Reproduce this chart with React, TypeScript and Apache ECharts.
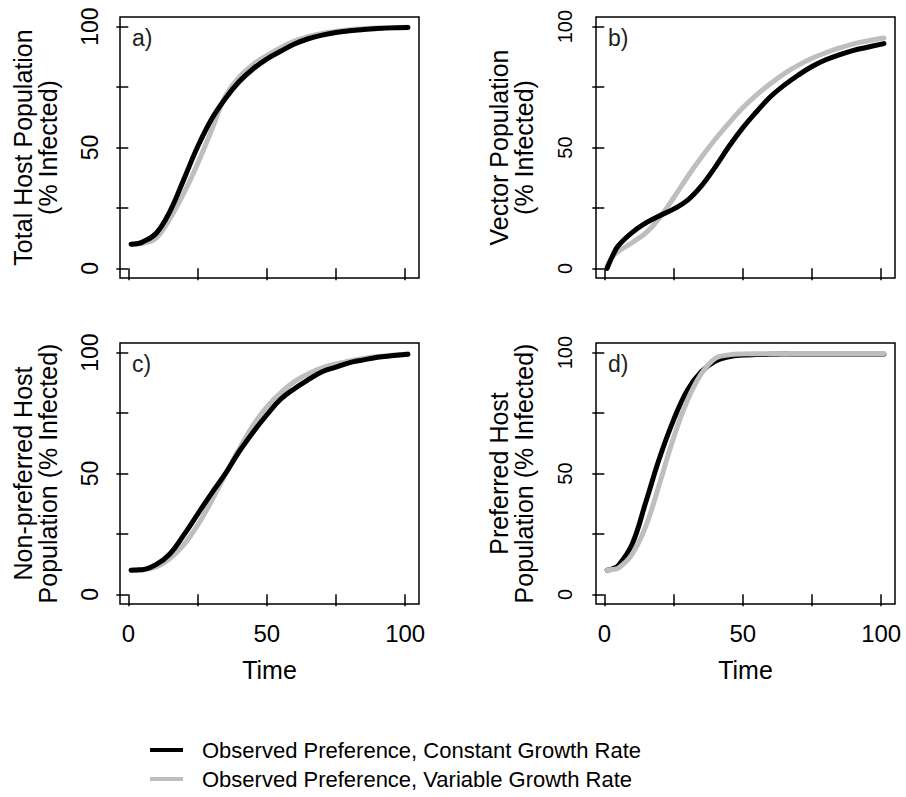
import React, { useEffect, useRef } from "react";
import * as echarts from "echarts";

// ---- data ----
const time = [1, 3, 5, 10, 15, 20, 25, 30, 35, 40, 45, 50, 55, 60, 65, 70, 75, 80, 85, 90, 95, 101];

const totalHostConstant = [10, 10.2, 10.8, 14.4, 23.5, 36.7, 50.2, 61.6, 70.2, 77.2, 82.5, 86.6, 89.8, 92.8, 95, 96.5, 97.6, 98.3, 98.8, 99.2, 99.5, 99.7];
const totalHostVariable = [10, 10.1, 10.3, 12.5, 20.5, 31, 43.2, 56.9, 71, 79, 84.3, 88, 91.3, 94, 95.9, 97.2, 98, 98.7, 99.1, 99.4, 99.6, 99.8];

const vectorConstant = [0, 5.2, 9.3, 14.8, 18.8, 21.8, 24.5, 28.1, 34, 41.8, 50.4, 58.1, 64.8, 71, 75.8, 79.9, 83.5, 86.3, 88.4, 90.2, 91.5, 93];
const vectorVariable = [1, 4.8, 7, 10.6, 14.7, 20.9, 29.1, 37.8, 45.9, 53.3, 60.1, 66.4, 71.8, 76.4, 80.6, 84, 86.9, 89.2, 91.2, 92.9, 94.1, 95.3];

const nonPreferredConstant = [10, 10.1, 10.2, 12.3, 16.7, 24.5, 33.1, 41.7, 49.8, 59, 67, 74.2, 80.7, 85.1, 88.8, 92.1, 94, 95.9, 97, 98.1, 98.7, 99.3];
const nonPreferredVariable = [10, 10, 10.1, 11.3, 14.8, 20.5, 28.5, 38.5, 49.5, 60, 69.8, 77.5, 83.4, 88, 91.3, 93.7, 95.3, 96.6, 97.6, 98.4, 98.9, 99.5];

const preferredConstant = [10, 10.6, 11.8, 20.6, 38.2, 56.6, 72.1, 84.5, 92.1, 96.4, 98.3, 99, 99.2, 99.3, 99.4, 99.4, 99.5, 99.5, 99.5, 99.5, 99.5, 99.5];
const preferredVariable = [10, 10.3, 10.8, 16.5, 28.2, 46, 64.7, 80.2, 91.2, 97.6, 99.1, 99.5, 99.6, 99.6, 99.6, 99.7, 99.7, 99.7, 99.7, 99.7, 99.7, 99.7];

const xTickValues = [0, 25, 50, 75, 100];
const xLabelValues = [0, 50, 100];
const yTickValues = [0, 25, 50, 75, 100];
const yLabelValues = [0, 50, 100];

const panelLabels = ["a)", "b)", "c)", "d)"];
const yTitles = [
  "Total Host Population\n(% Infected)",
  "Vector Population\n(% Infected)",
  "Non-preferred Host\nPopulation (% Infected)",
  "Preferred Host\nPopulation (% Infected)",
];
const xTitle = "Time";
const seriesNames = [
  "Observed Preference, Constant Growth Rate",
  "Observed Preference, Variable Growth Rate",
];

const panels = [
  { constant: totalHostConstant, variable: totalHostVariable, grayOnTop: false },
  { constant: vectorConstant, variable: vectorVariable, grayOnTop: false },
  { constant: nonPreferredConstant, variable: nonPreferredVariable, grayOnTop: false },
  { constant: preferredConstant, variable: preferredVariable, grayOnTop: true },
];

// ---- styling ----
const FONT = "'Liberation Sans', Arial, Helvetica, sans-serif";
const BLACK = "#000000";
const GRAY = "#BEBEBE";
const gridLefts = [120, 596];
const gridTops = [17, 343];
const GRID_W = 299;
const GRID_H = 261;

export default function App() {
  const ref = useRef<HTMLDivElement>(null);

  useEffect(() => {
    if (!ref.current) return;
    const chart = echarts.init(ref.current, undefined, { renderer: "svg" });

    const grids: any[] = [];
    const xAxes: any[] = [];
    const yAxes: any[] = [];
    const series: any[] = [];
    const graphics: any[] = [];

    panels.forEach((p, i) => {
      const col = i % 2;
      const row = Math.floor(i / 2);
      const left = gridLefts[col];
      const top = gridTops[row];
      const bottomRow = row === 1;

      grids.push({
        left,
        top,
        width: GRID_W,
        height: GRID_H,
        show: true,
        borderColor: BLACK,
        borderWidth: 1.5,
        backgroundColor: "transparent",
        containLabel: false,
      });

      xAxes.push({
        gridIndex: i,
        type: "value",
        min: -3,
        max: 105,
        axisLine: { show: false },
        splitLine: { show: false },
        axisTick: {
          show: true,
          inside: false,
          length: 12,
          customValues: xTickValues,
          lineStyle: { color: BLACK, width: 1.5 },
        },
        axisLabel: {
          show: bottomRow,
          customValues: xLabelValues,
          margin: 17,
          fontSize: 24,
          color: BLACK,
          fontFamily: FONT,
        },
        name: bottomRow ? xTitle : "",
        nameLocation: "middle",
        nameGap: 53,
        nameTextStyle: { fontSize: 25, color: BLACK, fontFamily: FONT },
      });

      yAxes.push({
        gridIndex: i,
        type: "value",
        min: -4,
        max: 104,
        axisLine: { show: false },
        splitLine: { show: false },
        axisTick: {
          show: true,
          inside: false,
          length: 12,
          customValues: yTickValues,
          lineStyle: { color: BLACK, width: 1.5 },
        },
        axisLabel: {
          show: true,
          customValues: yLabelValues,
          rotate: 90,
          margin: col === 0 ? 19 : 21,
          fontSize: col === 0 ? 23 : 20,
          color: BLACK,
          fontFamily: FONT,
        },
        name: yTitles[i],
        nameLocation: "middle",
        nameRotate: 90,
        nameGap: 60,
        nameTextStyle: {
          fontSize: 25,
          lineHeight: 25,
          color: BLACK,
          fontFamily: FONT,
          align: "center",
        },
      });

      const mk = (name: string, values: number[], color: string, z: number) => ({
        name,
        type: "line",
        xAxisIndex: i,
        yAxisIndex: i,
        data: time.map((t, k) => [t, values[k]]),
        showSymbol: false,
        symbol: "none",
        smooth: 0.4,
        color,
        z,
        itemStyle: { color },
        lineStyle: { color, width: 5, cap: "round", join: "round" },
        emphasis: { disabled: true },
        silent: true,
      });

      series.push(mk(seriesNames[1], p.variable, GRAY, p.grayOnTop ? 4 : 2));
      series.push(mk(seriesNames[0], p.constant, BLACK, 3));

      graphics.push({
        type: "text",
        left: left + 12,
        top: top + 9,
        style: {
          text: panelLabels[i],
          fontSize: 23,
          fontFamily: FONT,
          fill: "#222222",
        },
      });
    });

    chart.setOption({
      animation: false,
      backgroundColor: "#ffffff",
      textStyle: { fontFamily: FONT },
      grid: grids,
      xAxis: xAxes,
      yAxis: yAxes,
      series,
      graphic: graphics,
      legend: {
        orient: "vertical",
        left: 150,
        top: 739,
        padding: 0,
        itemWidth: 33,
        itemHeight: 4,
        itemGap: 7,
        icon: "rect",
        selectedMode: false,
        data: seriesNames,
        textStyle: {
          fontSize: 22,
          lineHeight: 22,
          color: BLACK,
          fontFamily: FONT,
          padding: [0, 0, 0, 14],
        },
      },
    });

    return () => chart.dispose();
  }, []);

  return (
    <div
      ref={ref}
      style={{ position: "absolute", left: 0, top: 0, width: 906, height: 797, background: "#fff" }}
    />
  );
}
